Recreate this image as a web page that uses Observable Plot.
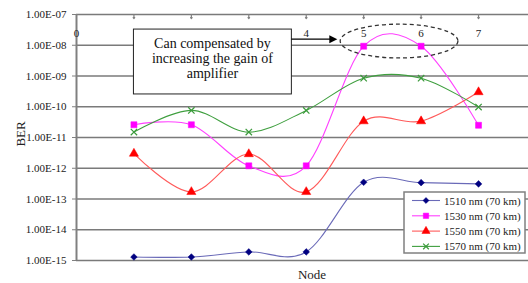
<!DOCTYPE html>
<html><head><meta charset="utf-8">
<script src="https://cdn.jsdelivr.net/npm/d3@7"></script>
<script src="https://cdn.jsdelivr.net/npm/@observablehq/plot@0.6"></script>
<style>
body{margin:0;background:#fff;}
#chart{position:relative;width:528px;height:283px;overflow:hidden;background:#fff;}
</style></head><body><div id="chart"></div>
<script>
const nodes = [1, 2, 3, 4, 5, 6, 7];
const seriesNames = ["1510 nm (70 km)", "1530 nm (70 km)", "1550 nm (70 km)", "1570 nm (70 km)"];
const ber1510 = [1.3e-15, 1.3e-15, 1.9e-15, 1.9e-15, 3.5e-13, 3.4e-13, 3.1e-13];
const ber1530 = [2.6e-11, 2.6e-11, 1.2e-12, 1.2e-12, 9.3e-9, 9.3e-9, 2.5e-11];
const ber1550 = [3.0e-12, 1.7e-13, 2.9e-12, 1.7e-13, 3.4e-11, 3.4e-11, 3.0e-10];
const ber1570 = [1.5e-11, 7.6e-11, 1.5e-11, 7.6e-11, 8.5e-10, 8.5e-10, 9.8e-11];
const xTicks = [0, 1, 2, 3, 4, 5, 6, 7];
const xTickLabelsShown = [0, 4, 5, 6, 7]; // 1–3 are hidden behind the annotation box in the reference
const yTicks = [1e-7, 1e-8, 1e-9, 1e-10, 1e-11, 1e-12, 1e-13, 1e-14, 1e-15];
const yTickLabels = ["1.00E-07", "1.00E-08", "1.00E-09", "1.00E-10", "1.00E-11", "1.00E-12", "1.00E-13", "1.00E-14", "1.00E-15"];
const annotationLines = ["Can compensated by", "increasing the gain of", "amplifier"];
const xLabel = "Node";
const yLabel = "BER";

const FONT = "'Liberation Serif', 'DejaVu Serif', 'Times New Roman', serif";
const seriesValues = [ber1510, ber1530, ber1550, ber1570];
const styles = [
  {line: "#6a6ab8", mark: "#000080", symbol: "diamond2", r: 3.0, filled: true},
  {line: "#ff40ff", mark: "#ff00ff", symbol: "square", r: 3.4, filled: true},
  {line: "#ff5a5a", mark: "#ff0000", symbol: "triangle", r: 3.4, filled: true},
  {line: "#3f9f3f", mark: "#3a9a3a", symbol: "times", r: 3.0, filled: false}
];
const rows = seriesNames.map((s, k) => nodes.map((n, i) => ({series: s, node: n, ber: seriesValues[k][i]})));

const dataMarks = [];
rows.forEach((data, k) => {
  const st = styles[k];
  dataMarks.push(Plot.line(data, {x: "node", y: "ber", stroke: st.line, strokeWidth: 1.1, curve: "cardinal", tension: 0}));
});
rows.forEach((data, k) => {
  const st = styles[k];
  dataMarks.push(Plot.dot(data, st.filled
    ? {x: "node", y: "ber", symbol: () => st.symbol, r: st.r, fill: st.mark, stroke: st.mark, strokeWidth: 0.5}
    : {x: "node", y: "ber", symbol: () => st.symbol, r: st.r, fill: "none", stroke: st.mark, strokeWidth: 1.2}));
});

const chart = Plot.plot({
  width: 528, height: 283,
  marginLeft: 76, marginRight: 0, marginTop: 14, marginBottom: 23,
  style: {fontFamily: FONT, fontSize: "11px", background: "white", color: "#222"},
  x: {domain: [0, 7.87], axis: null},
  y: {type: "log", domain: [1e-15, 1e-7]},
  symbol: {type: "identity"},
  marks: [
    Plot.ruleY(yTicks, {stroke: "#7a7a7a", strokeWidth: 1.5}),
    Plot.ruleX([0], {stroke: "#808080", strokeWidth: 2}),
    Plot.axisY(yTicks, {tickFormat: d => yTickLabels[yTicks.indexOf(d)], tickSize: 4, tickPadding: 6, stroke: "#808080", fill: "#222", fontSize: 11, label: null}),
    Plot.vector(xTicks.filter(d => d > 0), {x: d => d, frameAnchor: "top", length: 4, rotate: 180, anchor: "start", stroke: "#808080", strokeWidth: 1.2}),
    Plot.text(xTickLabelsShown, {x: d => d, frameAnchor: "top", dy: 15, text: d => String(d), fontSize: 11, fill: "#222"}),
    ...dataMarks
  ]
});
document.getElementById("chart").appendChild(chart);

const sx = chart.scale("x"), sy = chart.scale("y");
const svg = d3.select(chart);
const X = v => sx.apply(v), Y = v => sy.apply(v);

// axis titles
svg.append("text").attr("x", 312).attr("y", 279).attr("text-anchor", "middle")
  .attr("font-family", FONT).attr("font-size", 13).attr("fill", "#222").text(xLabel);
svg.append("text").attr("transform", `translate(25,${Y(Math.pow(10, -10.9))}) rotate(-90)`).attr("text-anchor", "middle")
  .attr("font-family", FONT).attr("font-size", 13).attr("fill", "#222").text(yLabel);

// annotation box
const bx1 = X(1), bx2 = X(3.75), by1 = Y(Math.pow(10, -7.49)), by2 = Y(Math.pow(10, -9.6));
svg.append("rect").attr("x", bx1).attr("y", by1).attr("width", bx2 - bx1).attr("height", by2 - by1)
  .attr("fill", "white").attr("stroke", "#222").attr("stroke-width", 1);
annotationLines.forEach((t, i) => {
  svg.append("text").attr("x", (bx1 + bx2) / 2).attr("y", by1 + 19 + i * 15.2).attr("text-anchor", "middle")
    .attr("font-family", FONT).attr("font-size", 14).attr("fill", "#111").text(t);
});
// arrow
const ay = Y(Math.pow(10, -7.82)), axEnd = X(4.55);
svg.append("line").attr("x1", bx2).attr("x2", axEnd - 6).attr("y1", ay).attr("y2", ay).attr("stroke", "#000").attr("stroke-width", 1.2);
svg.append("path").attr("d", `M${axEnd},${ay} L${axEnd - 8},${ay - 4} L${axEnd - 8},${ay + 4} Z`).attr("fill", "#000");
// dashed ellipse
const ex1 = X(4.6), ex2 = X(6.65), ey1 = Y(Math.pow(10, -7.33)), ey2 = Y(Math.pow(10, -8.43));
svg.append("ellipse").attr("cx", (ex1 + ex2) / 2).attr("cy", (ey1 + ey2) / 2).attr("rx", (ex2 - ex1) / 2).attr("ry", (ey2 - ey1) / 2)
  .attr("fill", "none").attr("stroke", "#333").attr("stroke-width", 1.3).attr("stroke-dasharray", "4,3");

// legend
const lg = svg.append("g");
lg.append("rect").attr("x", 404).attr("y", 192).attr("width", 121).attr("height", 61)
  .attr("fill", "white").attr("stroke", "#808080").attr("stroke-width", 1.5);
const sym = {diamond2: d3.symbolDiamond2, square: d3.symbolSquare, triangle: d3.symbolTriangle, times: d3.symbolTimes};
seriesNames.forEach((s, k) => {
  const st = styles[k];
  const yy = 200.5 + k * 15.3;
  lg.append("line").attr("x1", 412).attr("x2", 440).attr("y1", yy).attr("y2", yy).attr("stroke", st.line).attr("stroke-width", 1.1);
  lg.append("path").attr("transform", `translate(426,${yy})`)
    .attr("d", d3.symbol(sym[st.symbol], Math.PI * st.r * st.r * 0.8)())
    .attr("fill", st.filled ? st.mark : "none").attr("stroke", st.mark).attr("stroke-width", st.filled ? 0.5 : 1.2);
  lg.append("text").attr("x", 444).attr("y", yy + 4).attr("text-anchor", "start").attr("font-family", FONT).attr("font-size", 11)
    .attr("fill", "#222").text(s);
});
</script></body></html>
